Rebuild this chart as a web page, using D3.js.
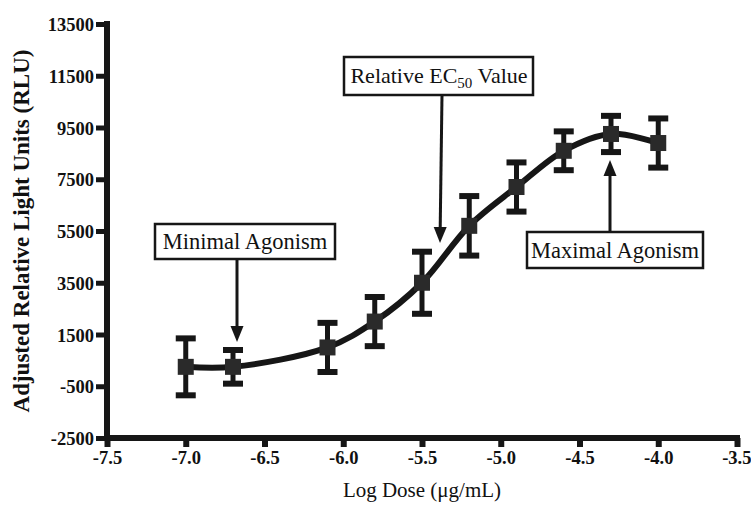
<!DOCTYPE html>
<html>
<head>
<meta charset="utf-8">
<script src="https://cdn.jsdelivr.net/npm/d3@7"></script>
<style>
  html, body { margin: 0; padding: 0; background: #fff; }
  svg { display: block; }
  text { font-family: "Liberation Serif", "Times New Roman", serif; fill: #111; }
</style>
</head>
<body>
<svg id="chart" width="751" height="506"></svg>
<script>
// ---- data ----
const logDose   = [-7.0, -6.7, -6.1, -5.8, -5.5, -5.2, -4.9, -4.6, -4.3, -4.0];
const rlu       = [250, 250, 1000, 2000, 3500, 5700, 7200, 8600, 9250, 8900];
const rluError  = [1100, 650, 950, 950, 1200, 1150, 950, 750, 700, 950];
const xTicks    = [-7.5, -7.0, -6.5, -6.0, -5.5, -5.0, -4.5, -4.0, -3.5];
const yTicks    = [-2500, -500, 1500, 3500, 5500, 7500, 9500, 11500, 13500];
const xTitle    = "Log Dose (\u03bcg/mL)";
const yTitle    = "Adjusted Relative Light Units (RLU)";

const svg = d3.select("#chart");
const ink = "#161616";

const x = d3.scaleLinear().domain([-7.5, -3.5]).range([107, 737]);
const y = d3.scaleLinear().domain([-2500, 13500]).range([438, 24]);

const pts = logDose.map((d, i) => ({ x: d, y: rlu[i], e: rluError[i] }));
const hyph = f => v => f(v).replace("\u2212", "-");

// ---- axes ----
const yAxis = d3.axisLeft(y).tickValues(yTicks).tickSize(11).tickPadding(2).tickFormat(hyph(d3.format("d")));
const gy = svg.append("g").attr("transform", `translate(${x(-7.5)},0)`).call(yAxis);
gy.select(".domain").remove();
gy.selectAll(".tick line").attr("stroke", ink).attr("stroke-width", 5);
gy.selectAll(".tick text").attr("font-size", 18.5).attr("font-weight", "bold")
  .attr("font-family", "Liberation Serif").attr("fill", ink).attr("dy", "0.36em");

const xAxis = d3.axisBottom(x).tickValues(xTicks).tickSize(9).tickPadding(4).tickFormat(hyph(d3.format(".1f")));
const gx = svg.append("g").attr("transform", `translate(0,${y(-2500)})`).call(xAxis);
gx.select(".domain").remove();
gx.selectAll(".tick line").attr("stroke", ink).attr("stroke-width", 6);
gx.selectAll(".tick text").attr("font-size", 18.5).attr("font-weight", "bold")
  .attr("font-family", "Liberation Serif").attr("fill", ink);
gx.selectAll(".tick").filter(d => d === -3.5).select("text").attr("text-anchor", "end").attr("x", 14);

// axis lines
svg.append("line").attr("x1", x(-7.5)).attr("x2", x(-7.5)).attr("y1", y(13500) - 3).attr("y2", y(-2500) + 3)
  .attr("stroke", ink).attr("stroke-width", 6);
svg.append("line").attr("x1", x(-7.5) - 3).attr("x2", x(-3.5) + 3).attr("y1", y(-2500)).attr("y2", y(-2500))
  .attr("stroke", ink).attr("stroke-width", 6);

// axis titles
svg.append("text").attr("transform", `translate(29,${(y(13500) + y(-2500)) / 2}) rotate(-90)`)
  .attr("text-anchor", "middle").attr("font-size", 23).attr("font-weight", "bold").text(yTitle);
svg.append("text").attr("x", 422).attr("y", 497)
  .attr("text-anchor", "middle").attr("font-size", 21).text(xTitle);

// ---- curve ----
const line = d3.line().x(d => x(d.x)).y(d => y(d.y)).curve(d3.curveCatmullRom.alpha(0.5));
svg.append("path").datum(pts).attr("d", line).attr("fill", "none")
  .attr("stroke", ink).attr("stroke-width", 6).attr("stroke-linecap", "round");

// ---- error bars ----
const eb = svg.append("g");
pts.forEach(p => {
  const cx = x(p.x);
  eb.append("line").attr("x1", cx).attr("x2", cx).attr("y1", y(p.y + p.e)).attr("y2", y(p.y - p.e))
    .attr("stroke", ink).attr("stroke-width", 5);
  [p.y + p.e, p.y - p.e].forEach(v => {
    eb.append("line").attr("x1", cx - 10).attr("x2", cx + 10).attr("y1", y(v)).attr("y2", y(v))
      .attr("stroke", ink).attr("stroke-width", 6);
  });
});

// ---- markers ----
svg.append("g").selectAll("rect").data(pts).join("rect")
  .attr("x", d => x(d.x) - 8).attr("y", d => y(d.y) - 8)
  .attr("width", 16).attr("height", 16).attr("fill", "#2a2a2a");

// ---- annotations ----
function arrow(x1, y1, x2, y2) {
  const ang = Math.atan2(y2 - y1, x2 - x1);
  const len = 16, half = 6.5;
  const bx = x2 - len * Math.cos(ang), by = y2 - len * Math.sin(ang);
  svg.append("line").attr("x1", x1).attr("y1", y1).attr("x2", bx).attr("y2", by)
    .attr("stroke", ink).attr("stroke-width", 3);
  const px = -Math.sin(ang) * half, py = Math.cos(ang) * half;
  svg.append("path").attr("d", `M${x2},${y2}L${bx + px},${by + py}L${bx - px},${by - py}Z`).attr("fill", ink);
}
function box(x0, y0, w, h) {
  svg.append("rect").attr("x", x0).attr("y", y0).attr("width", w).attr("height", h)
    .attr("fill", "#fff").attr("stroke", ink).attr("stroke-width", 2.5);
}

// Minimal Agonism
arrow(237, 258, 237, 342);
box(155, 224, 180, 35);
svg.append("text").attr("x", 245).attr("y", 249).attr("text-anchor", "middle").attr("font-size", 22.5).text("Minimal Agonism");

// Relative EC50 Value
arrow(442, 95, 440, 243);
box(344, 57, 189, 38);
const t2 = svg.append("text").attr("x", 439).attr("y", 83).attr("text-anchor", "middle").attr("font-size", 22);
t2.append("tspan").text("Relative EC");
t2.append("tspan").attr("font-size", 15).attr("dy", 5).text("50");
t2.append("tspan").attr("dy", -5).text(" Value");

// Maximal Agonism
arrow(610, 232, 610, 160);
box(527, 232, 176, 36);
svg.append("text").attr("x", 615).attr("y", 258).attr("text-anchor", "middle").attr("font-size", 22.5).text("Maximal Agonism");
</script>
</body>
</html>
